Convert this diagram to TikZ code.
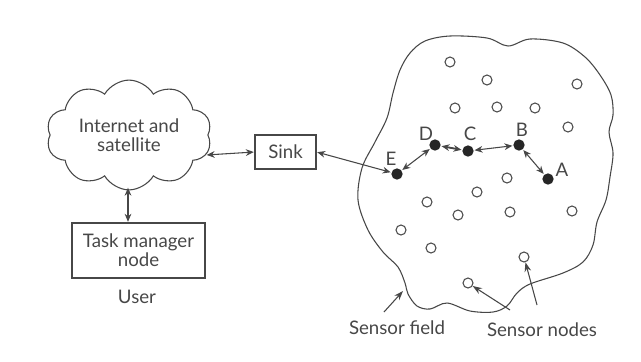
\documentclass[tikz,border=0pt]{standalone}
\usepackage{fontspec}
\setmainfont{Lato}
\usetikzlibrary{shapes.symbols,arrows.meta}
\begin{document}
\begin{tikzpicture}[x=0.75pt,y=-0.75pt,
  ink/.style={draw=black!72, line width=0.8pt},
  lbl/.style={text=black!72, font=\fontsize{14}{14}\selectfont, inner sep=0pt, align=center},
  box/.style={ink, rectangle, inner sep=0pt, text=black!72, font=\fontsize{14}{14}\selectfont, align=center},
  snode/.style={circle, draw=black!70, line width=0.8pt, minimum size=7.5pt, inner sep=0pt},
  fnode/.style={circle, fill=black!85, minimum size=8.5pt, inner sep=0pt},
  dbl/.style={ink, {Stealth[length=6pt,width=5pt]}-{Stealth[length=6pt,width=5pt]}, shorten <=0.5pt, shorten >=0.5pt},
  ptr/.style={ink, -{Stealth[length=7pt,width=5pt]}}
]
\useasboundingbox (0,0) rectangle (641,361);

% user side
\node[cloud, cloud puffs=10, cloud puff arc=120, aspect=1.6, ink,
      minimum width=124pt, minimum height=76pt, inner sep=0pt,
      text=black!72, font=\fontsize{14}{14}\selectfont, align=center]
  (net) at (129,135) {Internet and\\satellite};
\node[box, minimum width=45.75pt, minimum height=25.5pt] (sink) at (285.5,152) {Sink};
\node[box, minimum width=99.75pt, minimum height=41.25pt] (task) at (138.5,250.5) {Task manager\\node};
\node[lbl] (user) at (137,297) {User};

\coordinate (netR) at (206,155);
\coordinate (netB) at (128,187);
\draw[dbl] (netR) -- (sink.west);
\draw[dbl] (netB) -- (task.north -| netB);

% sensor field
\draw[ink] plot[smooth cycle, tension=0.55] coordinates {
 (410,53) (425,41) (450,36) (487,38) (508,46) (530,39) (563,43) (585,57)
 (600,75) (611,95) (613,115) (609,132) (613,153) (610,177) (606,200)
 (597,222) (593,245) (583,262) (563,273) (530,284) (517,293) (507,306)
 (493,312) (470,311) (447,303) (430,309) (417,306) (408,294) (405,283)
 (398,267) (383,252) (368,230) (358,200) (362,168) (375,142) (387,118)
 (393,93) (400,70)};
\coordinate (notch) at (403,291);

% sensor nodes
\foreach \p [count=\i] in {(450,62),(487,80),(577,84),(455,108),(497,107),(535,108),
  (568,127),(507,178),(477,192),(427,202),(510,212),(572,211),(458,215),
  (401,230),(431,248),(524,257),(468,283)}
  \node[snode] (s\i) at \p {};

% route nodes
\node[fnode] (E) at (397,174) {};
\node[fnode] (D) at (435,145) {};
\node[fnode] (C) at (468,151) {};
\node[fnode] (B) at (519,145) {};
\node[fnode] (A) at (548,179) {};
\node[lbl] (lE) at (391,159) {E};
\node[lbl] (lD) at (426,134) {D};
\node[lbl] (lC) at (470,134) {C};
\node[lbl] (lB) at (522,130) {B};
\node[lbl] (lA) at (562,170) {A};

\draw[dbl] (E) -- (D);
\draw[dbl, line width=1.4pt] (D) -- (C);
\draw[dbl] (C) -- (B);
\draw[dbl] (B) -- (A);
\draw[dbl] (sink.east) -- (E);

% labels and pointers
\node[lbl] (sf) at (397,328) {Sensor field};
\node[lbl] (sn) at (542,330) {Sensor nodes};
\coordinate (sfT) at (384,312);
\draw[ptr] (sfT) -- (notch);
\coordinate (sn1) at (510,310);
\coordinate (sn2) at (537,305);
\draw[ptr] (sn1) -- (s17);
\draw[ptr] (sn2) -- (s16);
\end{tikzpicture}
\end{document}
